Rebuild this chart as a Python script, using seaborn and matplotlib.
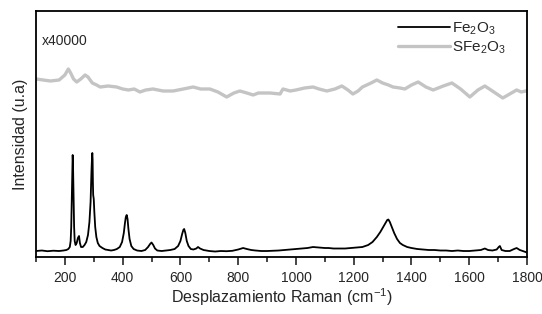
import pandas as pd
import numpy as np
import matplotlib.pyplot as plt
from matplotlib.ticker import MultipleLocator
import seaborn as sns

# Raman shift (cm-1) and intensity (arbitrary units)
fe_x = [100, 120, 140, 160, 180, 195, 205, 212, 217, 220, 222, 224, 226, 227, 228, 230, 232, 234,
        237, 241, 245, 249, 252, 256, 262, 268, 274, 280, 285, 289, 292, 294, 295, 296, 297, 298,
        300, 302, 305, 309, 314, 320, 330, 340, 350, 360, 370, 380, 390, 398, 404, 408, 411, 414,
        417, 420, 424, 430, 438, 450, 465, 478, 488, 495, 500, 506, 512, 520, 535, 550, 565, 580,
        592, 600, 606, 610, 613, 617, 622, 628, 636, 645, 655, 661, 668, 680, 700, 720, 740, 760,
        780, 800, 817, 830, 845, 860, 880, 900, 920, 940, 960, 980, 1000, 1020, 1040, 1059, 1080,
        1100, 1113, 1130, 1150, 1170, 1190, 1210, 1230, 1250, 1265, 1280, 1292, 1302, 1310, 1316,
        1320, 1325, 1332, 1340, 1350, 1360, 1370, 1385, 1400, 1420, 1440, 1460, 1480, 1500, 1520,
        1540, 1560, 1580, 1600, 1620, 1640, 1654, 1665, 1680, 1695, 1702, 1706, 1712, 1725, 1740,
        1755, 1764, 1775, 1790, 1800]
fe_y = [6, 6.5, 5.8, 6.3, 6, 6.5, 7, 8, 10, 16, 30, 60, 90, 102, 95, 60, 30, 16,
        12, 14, 19, 21, 14, 10, 10, 12, 15, 22, 35, 55, 85, 100, 104, 98, 75, 62,
        58, 45, 30, 20, 14, 11, 9, 7.5, 7, 6.5, 7, 8, 10, 15, 24, 34, 40, 42,
        38, 28, 18, 11, 8, 6.5, 6, 7, 10, 13, 14.5, 12, 8.5, 6.5, 6, 6.5, 7, 8,
        11, 16, 23, 27, 28, 24, 16, 11, 8, 7.5, 8.5, 10, 8.5, 7, 6, 5.5, 6, 5.8,
        6.2, 7.5, 9, 8, 7, 6.5, 6, 6, 6.2, 6.5, 7, 7.5, 8, 8.5, 9, 10, 9.5,
        9, 9, 8.5, 8.5, 8.5, 9, 9.5, 10, 12, 15, 20, 25, 30, 34, 37,
        37.5, 35, 30, 24, 18, 14, 12, 10, 9, 8, 7.5, 7, 7, 6.5, 6.5,
        6, 6.5, 6, 6, 6.5, 7, 8.5, 7, 6.5, 7.5, 10, 11, 7, 6, 6,
        8, 9, 7, 5.5, 4.5]

sfe_x = [100, 125, 150, 180, 200, 212, 220, 230, 241, 255, 270, 280, 295, 310, 322, 350, 379, 400,
         420, 440, 460, 480, 505, 540, 575, 610, 644, 670, 702, 730, 760, 785, 806, 830, 852, 870,
         887, 910, 945, 955, 980, 1000, 1030, 1059, 1080, 1107, 1135, 1159, 1180, 1197, 1215, 1230,
         1260, 1280, 1300, 1320, 1336, 1360, 1377, 1400, 1423, 1450, 1475, 1510, 1540, 1570, 1602,
         1630, 1654, 1680, 1716, 1740, 1764, 1780, 1796, 1800]
sfe_y = [178, 177, 176, 177, 182, 188, 184, 178, 175, 178, 182, 180, 174, 172, 170, 171, 170, 168,
         167, 168, 165, 167, 168, 166, 166, 168, 170, 168, 168, 165, 160, 164, 166, 164, 162, 164,
         164, 164, 163, 168, 166, 167, 169, 170, 168, 166, 168, 171, 167, 163, 166, 170,
         174, 177, 174, 172, 170, 169, 168, 172, 175, 170, 167, 171, 174, 168, 160,
         167, 171, 166, 159, 163, 167, 165, 166, 166]

fe = pd.DataFrame({'x': fe_x, 'y': fe_y})
sfe = pd.DataFrame({'x': sfe_x, 'y': sfe_y})

sns.set_style('ticks')
plt.rcParams['font.family'] = ['Liberation Sans', 'DejaVu Sans']
plt.rcParams['mathtext.fontset'] = 'custom'
plt.rcParams['mathtext.rm'] = 'Liberation Sans'

fig = plt.figure(figsize=(5.42, 3.14), dpi=100)
ax = fig.add_axes([0.0664, 0.1815, 0.906, 0.7835])

sns.lineplot(x='x', y='y', data=fe, color='black', lw=1.3, ax=ax, label='Fe$_2$O$_3$')
sns.lineplot(x='x', y='y', data=sfe, color='#c4c4c4', lw=2.4, ax=ax, label='SFe$_2$O$_3$')

ax.set_xlim(100, 1800)
ax.set_ylim(0, 246)
ax.xaxis.set_major_locator(MultipleLocator(200))
ax.xaxis.set_minor_locator(MultipleLocator(100))
ax.tick_params(axis='x', which='major', direction='out', length=6, width=1.2, labelsize=10, pad=4)
ax.tick_params(axis='x', which='minor', direction='out', length=3.5, width=1.2)
ax.set_yticks([])
for s in ax.spines.values():
    s.set_linewidth(1.3)
    s.set_color('black')

ax.set_xlabel('Desplazamiento Raman (cm$^{-1}$)', fontsize=11.5, labelpad=1)
ax.set_ylabel('Intensidad (u.a)', fontsize=11.5, labelpad=6)
ax.text(0.012, 0.86, 'x40000', transform=ax.transAxes, fontsize=10)

ax.legend(loc='upper right', frameon=False, fontsize=11, handlelength=3.4,
          handletextpad=0.1, labelspacing=0.15, borderaxespad=0.2,
          bbox_to_anchor=(0.975, 1.0))

plt.savefig('out.png', dpi=100)
